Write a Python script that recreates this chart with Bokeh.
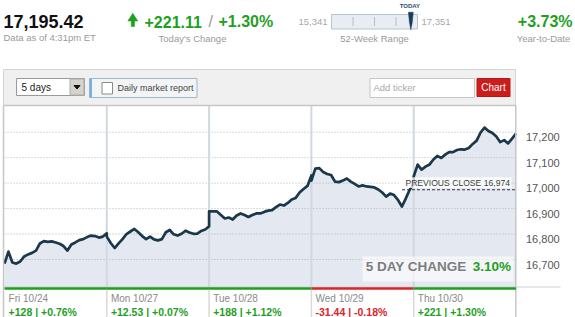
from bokeh.plotting import figure
from bokeh.models import Range1d
from bokeh.core.properties import value
from bokeh.embed import file_html
from bokeh.resources import INLINE

FONT = "Liberation Sans"

# ---------------- data ----------------
days = ["Fri 10/24", "Mon 10/27", "Tue 10/28", "Wed 10/29", "Thu 10/30"]
day_change_pts = [128, 12.53, 188, -31.44, 221]
day_change_pct = [0.76, 0.07, 1.12, -0.18, 1.30]

fri = [16684, 16731, 16688, 16684, 16692, 16712, 16720, 16726, 16735, 16763, 16772, 16769, 16771, 16767,
       16762, 16753, 16735, 16759, 16767, 16776, 16780, 16788, 16794, 16792, 16786, 16790, 16803]
mon = [16790, 16765, 16745, 16763, 16780, 16800, 16810, 16820, 16807, 16792, 16780, 16790, 16779, 16775,
       16780, 16807, 16816, 16799, 16794, 16801, 16813, 16806, 16801, 16802, 16812, 16818, 16830]
tue = [16889, 16889, 16889, 16875, 16861, 16865, 16857, 16873, 16881, 16875, 16867, 16875, 16881, 16881,
       16887, 16892, 16894, 16906, 16916, 16912, 16922, 16936, 16942, 16963, 16977, 16989, 17030]
wed = [17010, 17057, 17059, 17044, 17036, 17032, 17006, 17004, 17010, 17018, 17006, 16997, 16987, 16991,
       16987, 16985, 16983, 16975, 16963, 16947, 16959, 16953, 16934, 16908, 16940, 16975, 16995]
thu = [17026, 17073, 17053, 17065, 17073, 17093, 17107, 17099, 17112, 17122, 17122, 17130, 17133, 17132,
       17138, 17154, 17167, 17199, 17218, 17205, 17197, 17183, 17161, 17169, 17156, 17175, 17195]
intraday = [fri, mon, tue, wed, thu]

y_ticks = [16700, 16800, 16900, 17000, 17100, 17200]

last_price = 17195.42
today_change = 221.11
today_pct = 1.30
low_52w = 15341
high_52w = 17351
ytd_pct = 3.73
prev_close = 16974
five_day_pct = 3.10

GREEN = "#1f9f1f"
RED = "#d8262b"
GRAY_TXT = "#9a9a9a"

# ---------------- geometry (layout only) ----------------
W, H = 575, 317
X0, PPD = 4.0, 102.3          # pixel of day 0, pixels per day
PT, PB = 105, 287             # plot area top / bottom pixels
YTOP, YBOT = 17305, 16590     # values at plot top / bottom
K = (YTOP - YBOT) / (PB - PT)  # value units per pixel
NDAYS = len(days)

p = figure(width=W, height=H,
           x_range=Range1d(-X0 / PPD, (W - X0) / PPD),
           y_range=Range1d(YBOT - (H - PB) * K, YTOP + PT * K),
           toolbar_location=None, output_backend="svg", min_border=0,
           x_axis_location=None, y_axis_location=None)
p.extra_x_ranges = {"px": Range1d(0, W)}
p.extra_y_ranges = {"px": Range1d(H, 0)}
p.grid.visible = False
p.outline_line_color = None
p.background_fill_color = "white"
p.border_fill_color = "white"

PX = dict(x_range_name="px", y_range_name="px")


def txt(x, y, s, size, color, bold=False, align="left"):
    p.text(x=[x], y=[y], text=[s], text_font=value(FONT), text_font_size=f"{size}px",
           text_font_style="bold" if bold else "normal", text_color=color,
           text_align=align, text_baseline="middle", **PX)


# ---------------- header ----------------
txt(3, 21, f"{last_price:,.2f}", 18, "#111111", bold=True)
txt(3, 37, "Data as of 4:31pm ET", 9.5, GRAY_TXT)

p.patch(x=[127.3, 132.3, 137.3, 134, 134, 130.7, 130.7], y=[20.5, 12.7, 20.5, 20.5, 26, 26, 20.5],
        fill_color=GREEN, line_color=GREEN, line_width=0.5, **PX)
txt(144, 21, f"+{today_change:.2f}", 16, GREEN, bold=True)
txt(208, 21, "/", 16, "#9a9a9a")
txt(218, 21, f"+{today_pct:.2f}%", 16, GREEN, bold=True)
txt(192, 37.5, "Today's Change", 9.5, GRAY_TXT, align="center")

bx0, bx1 = 331, 417
txt(327, 21, f"{low_52w:,}", 9.5, "#a8a8a8", align="right")
txt(421, 21, f"{high_52w:,}", 9.5, "#a8a8a8")
p.quad(left=[bx0], right=[bx1], top=[14], bottom=[28.5], fill_color="#e8edf3", line_color="#b9c3cd", **PX)
tick_x = [bx0 + (bx1 - bx0) * k / 4 for k in (1, 2, 3)]
p.segment(x0=tick_x, y0=[16.5] * 3, x1=tick_x, y1=[25.5] * 3, line_color="#b4bcc5", line_width=1, **PX)
mx = bx0 + (bx1 - bx0) * (last_price - low_52w) / (high_52w - low_52w)
p.patch(x=[mx - 2.4, mx + 2.4, mx + 1.4, mx, mx - 1.4], y=[11.7, 11.7, 22, 29.3, 22],
        fill_color="#1b3a5c", line_color="#1b3a5c", line_width=0.5, **PX)
txt(mx - 1, 5.4, "TODAY", 6, "#2c4a6b", bold=True, align="center")
txt(374, 37.5, "52-Week Range", 9.5, GRAY_TXT, align="center")

txt(572, 21, f"+{ytd_pct:.2f}%", 16, GREEN, bold=True, align="right")
txt(543, 37.5, "Year-to-Date", 9.5, GRAY_TXT, align="center")

# ---------------- toolbar panel ----------------
p.quad(left=[3], right=[515], top=[69], bottom=[105], fill_color="#f0f0f0", line_color="#d4d4d4", **PX)
p.quad(left=[16], right=[84], top=[78], bottom=[95], fill_color="white", line_color="#9a9a9a", **PX)
p.quad(left=[69.5], right=[83.5], top=[78.5], bottom=[94.5], fill_color="#d6d3ce", line_color="#b0aca6", **PX)
p.patch(x=[73.5, 79.5, 76.5], y=[85, 85, 88.5], fill_color="#111111", line_color="#111111", **PX)
txt(21, 86.8, "5 days", 10, "#222222")
p.quad(left=[89], right=[196.5], top=[78], bottom=[97], fill_color="#f3f4f6", line_color="#a3b6c8", **PX)
p.quad(left=[89], right=[91.5], top=[78], bottom=[97], fill_color="#7fb1dc", line_color=None, **PX)
p.quad(left=[101.5], right=[112], top=[82], bottom=[93.5], fill_color="white", line_color="#8a8a8a", **PX)
txt(117, 87.3, "Daily market report", 9, "#444444")
p.quad(left=[369.5], right=[474], top=[78], bottom=[97], fill_color="white", line_color="#c6c6c6", **PX)
txt(373, 87.3, "Add ticker", 9.5, "#aaaaaa")
p.quad(left=[476.5], right=[509.5], top=[78], bottom=[96], fill_color="#cc1d1d", line_color="#b81616", **PX)
txt(493, 87.3, "Chart", 10, "white", align="center")

# ---------------- main chart ----------------
xs, ys = [], []
for d, vals in enumerate(intraday):
    n = len(vals) - 1
    for i, v in enumerate(vals):
        xs.append(d + i / n)
        ys.append(v)

p.varea(x=xs, y1=[YBOT] * len(xs), y2=ys, fill_color="#e4e9f1")

# dotted horizontal grid at value ticks, solid day separators
p.segment(x0=[0] * len(y_ticks), y0=y_ticks, x1=[NDAYS] * len(y_ticks), y1=y_ticks,
          line_color="#b3b3b3", line_width=1, line_dash="1 2")
seps = list(range(1, NDAYS))
p.segment(x0=seps, y0=[YBOT] * len(seps), x1=seps, y1=[YTOP] * len(seps),
          line_color="#d2d8df", line_width=2)

p.line(xs, ys, line_color="#1b374a", line_width=2.7, line_join="round")

# plot borders
p.segment(x0=[3, 515.3, 3], y0=[105, 105, 105], x1=[3, 515.3, 515.3], y1=[317, 317, 105],
          line_color="#c6c6c6", line_width=1.5, **PX)

# previous close
p.segment(x0=[401.5], y0=[prev_close], x1=[515], y1=[prev_close], line_color="#333333",
          line_width=1, line_dash="3 2", x_range_name="px")
p.quad(left=[398], right=[511], top=[176.8], bottom=[187.5], fill_color="white",
       fill_alpha=0.75, line_color=None, **PX)
txt(509.5, 182.2, f"PREVIOUS CLOSE {prev_close:,}", 8.6, "#3c3c3c", align="right")

# 5 day change box
p.quad(left=[362], right=[513], top=[256], bottom=[281], fill_color="white", fill_alpha=0.6,
       line_color=None, **PX)
txt(466, 266, "5 DAY CHANGE", 13.5, "#7d7d7d", bold=True, align="right")
txt(510.5, 266, f"{five_day_pct:.2f}%", 13.5, GREEN, bold=True, align="right")

# right-hand value labels (sit just below each grid line)
p.text(x=[525.5] * len(y_ticks), y=[t - 5 * K for t in y_ticks], text=[f"{t:,}" for t in y_ticks],
       text_font=value(FONT), text_font_size="11px", text_color="#555555", text_align="left",
       text_baseline="middle", x_range_name="px")

# ---------------- bottom day strip ----------------
colors = [GREEN if c >= 0 else RED for c in day_change_pts]
p.segment(x0=[3], y0=[286.5], x1=[560], y1=[286.5], line_color="#cfcfcf", line_width=1, **PX)
p.segment(x0=list(range(NDAYS)), y0=[288] * NDAYS, x1=[d + 1 for d in range(NDAYS)], y1=[288] * NDAYS,
          line_color=colors, line_width=2.4, y_range_name="px")
p.segment(x0=seps, y0=[289.5] * len(seps), x1=seps, y1=[317] * len(seps),
          line_color="#d9d9d9", line_width=1.5, y_range_name="px")
p.text(x=[d + 0.04 for d in range(NDAYS)], y=[298] * NDAYS, text=days, text_font=value(FONT),
       text_font_size="10px", text_color="#8a8a8a", text_baseline="middle", y_range_name="px")
labels = [f"{c:+g} | {q:+.2f}%" for c, q in zip(day_change_pts, day_change_pct)]
p.text(x=[d + 0.04 for d in range(NDAYS)], y=[311.3] * NDAYS, text=labels, text_font=value(FONT),
       text_font_size="10.5px", text_font_style="bold", text_color=colors, text_baseline="middle",
       y_range_name="px")

open("out.html", "w").write(file_html(p, INLINE))
